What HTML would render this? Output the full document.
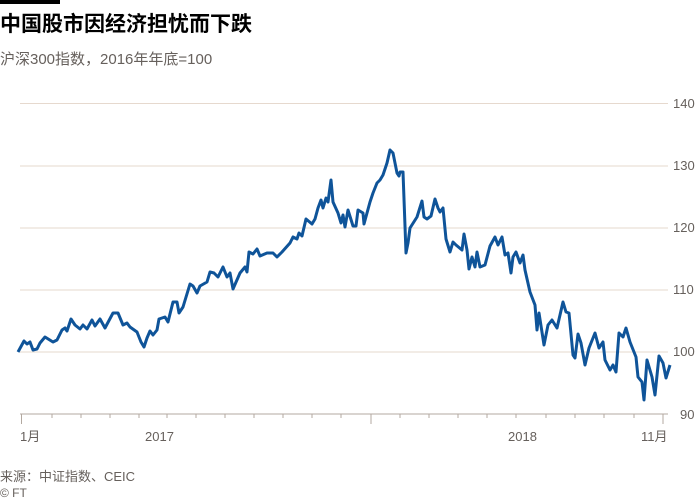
<!DOCTYPE html>
<html><head><meta charset="utf-8"><style>
body{margin:0;background:#fff;width:700px;height:500px;overflow:hidden;font-family:"Liberation Sans","Noto Sans CJK SC",sans-serif}
svg{display:block}
</style></head><body>
<svg width="700" height="500" xmlns="http://www.w3.org/2000/svg" font-family="Liberation Sans, Noto Sans CJK SC, sans-serif">
<rect x="0" y="0" width="60" height="4" fill="#000"/>
<text x="0" y="31" font-size="21" font-weight="bold" fill="#000">中国股市因经济担忧而下跌</text>
<text x="0" y="64" font-size="15" fill="#66605c">沪深300指数，2016年年底=100</text>
<g stroke="#e6d9ce" stroke-width="1">
<line x1="20" y1="103.5" x2="668" y2="103.5"/>
<line x1="20" y1="166" x2="668" y2="166"/>
<line x1="20" y1="228" x2="668" y2="228"/>
<line x1="20" y1="290" x2="668" y2="290"/>
<line x1="20" y1="352" x2="668" y2="352"/>
</g>
<g font-size="13" fill="#66605c">
<text x="673" y="108">140</text>
<text x="673" y="170">130</text>
<text x="673" y="232">120</text>
<text x="673" y="294">110</text>
<text x="673" y="356">100</text>
<text x="680" y="419">90</text>
</g>
<line x1="20" y1="414" x2="668" y2="414" stroke="#b3a9a0" stroke-width="1"/>
<g stroke="#b3a9a0" stroke-width="1">
<line x1="21.5" y1="414" x2="21.5" y2="424"/>
<line x1="371" y1="414" x2="371" y2="424"/>
<line x1="663" y1="414" x2="663" y2="424"/>
<line x1="52" y1="414" x2="52" y2="418"/><line x1="81" y1="414" x2="81" y2="418"/><line x1="110" y1="414" x2="110" y2="418"/><line x1="139" y1="414" x2="139" y2="418"/><line x1="167" y1="414" x2="167" y2="418"/><line x1="196" y1="414" x2="196" y2="418"/><line x1="225" y1="414" x2="225" y2="418"/><line x1="254" y1="414" x2="254" y2="418"/><line x1="283" y1="414" x2="283" y2="418"/><line x1="312" y1="414" x2="312" y2="418"/><line x1="341" y1="414" x2="341" y2="418"/><line x1="400" y1="414" x2="400" y2="418"/><line x1="429" y1="414" x2="429" y2="418"/><line x1="458" y1="414" x2="458" y2="418"/><line x1="487" y1="414" x2="487" y2="418"/><line x1="516" y1="414" x2="516" y2="418"/><line x1="546" y1="414" x2="546" y2="418"/><line x1="575" y1="414" x2="575" y2="418"/><line x1="604" y1="414" x2="604" y2="418"/><line x1="634" y1="414" x2="634" y2="418"/>
</g>
<g font-size="13" fill="#66605c">
<text x="20" y="441">1月</text>
<text x="145" y="441">2017</text>
<text x="508" y="441">2018</text>
<text x="641" y="441">11月</text>
</g>
<polyline fill="none" stroke="#0f5499" stroke-width="3" stroke-linejoin="round" points="18,352 24,341 27,344 30,342 33,350 37,349 40,343 45,337 53,342 57,340 62,330 65,328 67,331 71,319 75,325 80,329 83,325 87,329 92,320 95,326 100,319 105,328 113,313 118,313 123,325 127,323 130,327 137,332 141,342 144,347 147,338 150,331 153,335 157,330 159,319 165,317 168,322 173,302 177,302 179,313 183,307 190,284 193,286 197,293 200,286 207,282 210,272 214,273 218,277 223,267 227,277 230,273 233,289 240,273 245,267 247,272 249,252 253,254 257,249 260,256 267,253 273,253 277,257 282,252 290,243 293,237 297,239 299,233 302,236 306,219 312,224 315,219 318,208 321,200 323,208 326,198 328,202 331,180 333,202 338,213 341,223 343,215 345,227 348,210 353,226 356,226 358,210 363,213 364,224 370,202 373,193 377,183 380,180 383,175 387,163 390,150 393,153 397,173 399,176 400,172 403,172 406,253 408,243 410,228 417,217 422,201 424,217 427,219 431,216 435,199 438,208 440,212 443,208 446,239 450,252 453,242 456,245 462,250 464,234 467,250 469,269 472,257 475,267 477,252 480,267 485,265 490,246 495,237 498,245 502,237 505,255 508,253 511,273 513,257 516,252 520,263 523,255 525,270 530,292 535,305 537,330 539,313 544,345 548,325 552,320 557,328 560,315 563,302 566,312 569,313 573,355 575,358 578,334 581,343 585,365 589,348 595,333 599,348 603,342 605,360 610,370 613,365 616,372 619,333 623,337 626,328 630,342 636,357 638,377 642,382 644,400 647,360 652,377 655,395 659,356 663,363 666,378 670,365"/>
<text x="0" y="481" font-size="13" fill="#66605c">来源：中证指数、CEIC</text>
<text x="0" y="497" font-size="12" fill="#66605c">© FT</text>
</svg>
</body></html>
